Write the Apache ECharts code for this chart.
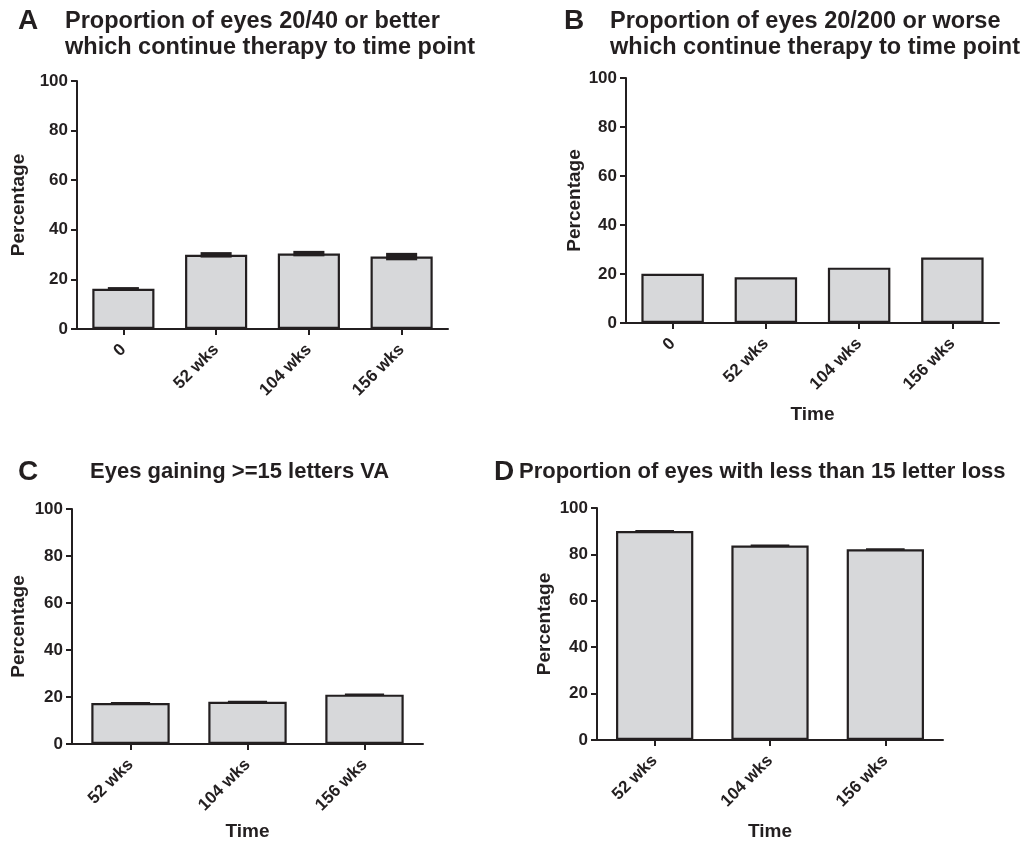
<!DOCTYPE html>
<html>
<head>
<meta charset="utf-8">
<script src="https://cdn.jsdelivr.net/npm/echarts@6/dist/echarts.min.js"></script>
<style>
html,body{margin:0;padding:0;background:#fff;}
#chart{width:1022px;height:842px;}
</style>
</head>
<body>
<div id="chart"></div>
<script>
// ---- data ----
const categoriesAB = ['0', '52 wks', '104 wks', '156 wks'];
const categoriesCD = ['52 wks', '104 wks', '156 wks'];
const valuesA = [16.2, 29.9, 30.4, 29.2];
const errorsA = [0.7, 1.1, 1.1, 1.5];
const valuesB = [20.1, 18.7, 22.6, 26.7];
const valuesC = [17.4, 18.0, 21.0];
const errorsC = [0.2, 0.4, 0.5];
const valuesD = [90.1, 83.8, 82.2];
const errorsD = [0.2, 0.3, 0.4];
const yTicks = [0, 20, 40, 60, 80, 100];
const panelLetters = ['A', 'B', 'C', 'D'];
const panelTitles = [
  'Proportion of eyes 20/40 or better\nwhich continue therapy to time point',
  'Proportion of eyes 20/200 or worse\nwhich continue therapy to time point',
  'Eyes gaining >=15 letters VA',
  'Proportion of eyes with less than 15 letter loss'
];
const yName = 'Percentage';
const xName = 'Time';

// ---- style ----
const INK = '#231f20';
const FILL = '#d7d8da';
const FONT = '"Liberation Sans", Arial, Helvetica, sans-serif';

const grids = [
  {left: 77, top: 81, width: 371, height: 248},
  {left: 626, top: 78, width: 373, height: 245},
  {left: 72, top: 509, width: 351, height: 235},
  {left: 597, top: 508, width: 346, height: 232}
];
const yNameGaps = [49, 42, 44, 43];
const xNameGaps = [80, 82, 78, 82];
const titleSizes = [23.5, 23.5, 22, 22];

function xAxisFor(i, cats, withName) {
  return {
    type: 'category', gridIndex: i, data: cats,
    boundaryGap: true,
    name: withName ? xName : '', nameLocation: 'middle', nameGap: xNameGaps[i],
    nameTextStyle: {fontFamily: FONT, fontWeight: 'bold', fontSize: 19, color: INK},
    axisLine: {show: true, lineStyle: {color: INK, width: 2}},
    axisTick: {show: true, alignWithLabel: true, length: 6, lineStyle: {color: INK, width: 2}},
    axisLabel: {rotate: 45, margin: 18, fontFamily: FONT, fontWeight: 'bold', fontSize: 17, color: INK},
    splitLine: {show: false}
  };
}
function yAxisFor(i) {
  return {
    type: 'value', gridIndex: i, min: yTicks[0], max: yTicks[yTicks.length - 1],
    interval: yTicks[1] - yTicks[0],
    name: yName, nameLocation: 'middle', nameGap: yNameGaps[i], nameRotate: 90,
    nameTextStyle: {fontFamily: FONT, fontWeight: 'bold', fontSize: 19, color: INK},
    axisLine: {show: true, lineStyle: {color: INK, width: 2}},
    axisTick: {show: true, length: 6, lineStyle: {color: INK, width: 2}},
    axisLabel: {margin: 9, fontFamily: FONT, fontWeight: 'bold', fontSize: 17, color: INK},
    splitLine: {show: false}
  };
}
function barSeries(i, vals) {
  return {
    type: 'bar', xAxisIndex: i, yAxisIndex: i, data: vals, barWidth: '67%',
    itemStyle: {color: FILL, borderColor: INK, borderWidth: 2.2},
    silent: true
  };
}
function errSeries(i, vals, errs) {
  return {
    type: 'custom', xAxisIndex: i, yAxisIndex: i, silent: true, z: 5,
    data: vals.map((v, k) => [k, v, errs[k]]),
    renderItem: function (params, api) {
      const idx = api.value(0), v = api.value(1), e = api.value(2);
      const top = api.coord([idx, v + e]);
      const bot = api.coord([idx, v - e]);
      const band = api.size([1, 0])[0];
      const w = band * 0.67 * 0.5;
      const h = Math.max(bot[1] - top[1], 2);
      return {
        type: 'rect',
        shape: {x: top[0] - w / 2, y: (top[1] + bot[1]) / 2 - h / 2, width: w, height: h},
        style: {fill: INK}
      };
    }
  };
}

const letterPos = [[18, 7], [564, 7], [18, 458], [494, 458]];
const titlePos = [[65, 9], [610, 9], [90, 459], [519, 459]];
const titles = [];
panelLetters.forEach((L, k) => {
  titles.push({text: L, left: letterPos[k][0], top: letterPos[k][1], padding: 0,
    textStyle: {fontFamily: FONT, fontWeight: 'bold', fontSize: 28, color: INK, lineHeight: 28}});
  titles.push({text: panelTitles[k], left: titlePos[k][0], top: titlePos[k][1], padding: 0,
    textStyle: {fontFamily: FONT, fontWeight: 'bold', fontSize: titleSizes[k], color: INK, lineHeight: 26}});
});

const option = {
  backgroundColor: '#fff',
  animation: false,
  title: titles,
  grid: grids,
  xAxis: [
    xAxisFor(0, categoriesAB, false),
    xAxisFor(1, categoriesAB, true),
    xAxisFor(2, categoriesCD, true),
    xAxisFor(3, categoriesCD, true)
  ],
  yAxis: [yAxisFor(0), yAxisFor(1), yAxisFor(2), yAxisFor(3)],
  series: [
    barSeries(0, valuesA), errSeries(0, valuesA, errorsA),
    barSeries(1, valuesB),
    barSeries(2, valuesC), errSeries(2, valuesC, errorsC),
    barSeries(3, valuesD), errSeries(3, valuesD, errorsD)
  ]
};
const chart = echarts.init(document.getElementById('chart'), null, {renderer: 'canvas'});
chart.setOption(option);
</script>
</body>
</html>
